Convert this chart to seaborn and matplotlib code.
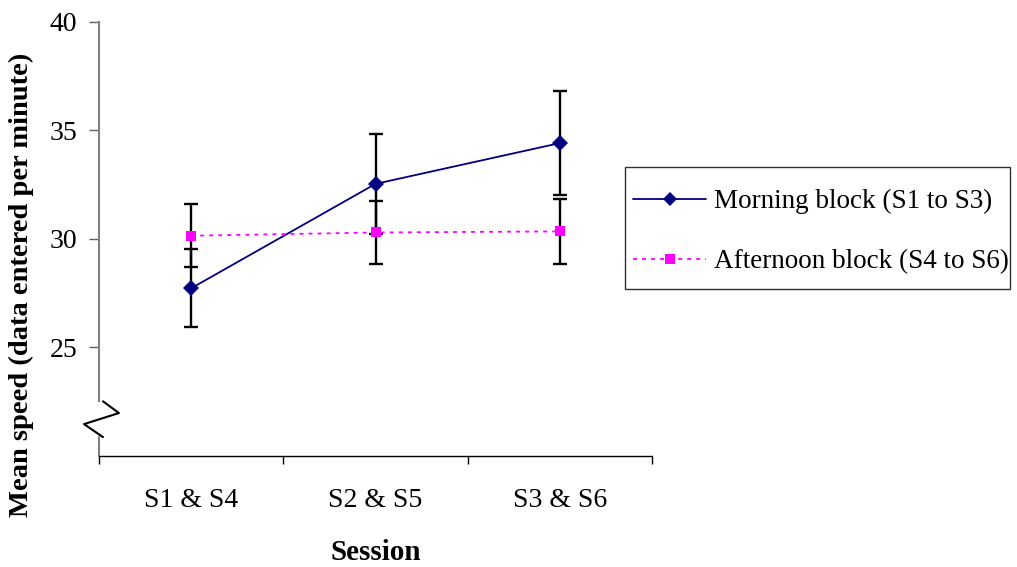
import numpy as np
import pandas as pd
import matplotlib
matplotlib.use("Agg")
import matplotlib.pyplot as plt
import matplotlib.transforms as mtransforms
from matplotlib.patches import Rectangle
import seaborn as sns

# Session pairs and mean typing speed per block
sessions = ["S1 & S4", "S2 & S5", "S3 & S6"]
morning_mean = [27.73, 32.54, 34.42]
morning_err = [1.80, 2.30, 2.38]
afternoon_mean = [30.15, 30.30, 30.35]
afternoon_err = [1.45, 1.45, 1.50]
series_names = ["Morning block (S1 to S3)", "Afternoon block (S4 to S6)"]
y_ticks = [25, 30, 35, 40]

sns.set_style("ticks")
plt.rcParams["font.family"] = ["Liberation Serif", "DejaVu Serif"]
plt.rcParams["text.color"] = "black"
plt.rcParams["axes.labelcolor"] = "black"

pos = np.arange(len(sessions))
df = pd.DataFrame({
    "pos": np.concatenate([pos, pos]),
    "speed": morning_mean + afternoon_mean,
    "block": [series_names[0]] * len(sessions) + [series_names[1]] * len(sessions),
})

W, H = 1017, 567
fig = plt.figure(figsize=(W / 100, H / 100), dpi=100)
ax = fig.add_axes([99 / W, 1 - 456 / H, 553 / W, 434 / H])

# error bars first so the markers sit on top
for means, errs in [(morning_mean, morning_err), (afternoon_mean, afternoon_err)]:
    ax.errorbar(pos, means, yerr=errs, fmt="none", ecolor="black",
                elinewidth=1.7, capsize=5, capthick=1.7, zorder=2)

palette = {series_names[0]: "#000080", series_names[1]: "#FF00FF"}
sns.lineplot(
    data=df, x="pos", y="speed", hue="block", style="block",
    palette=palette,
    markers={series_names[0]: "D", series_names[1]: "s"},
    dashes={series_names[0]: "", series_names[1]: (2.2, 2.8)},
    markeredgewidth=0, linewidth=1.3, ax=ax, zorder=3,
    legend=True,
)
# marker sizes per series
for line in ax.get_lines():
    if line.get_marker() == "D":
        line.set_markersize(8.5)
    elif line.get_marker() == "s":
        line.set_markersize(7.5)

ax.set_xlim(-0.5, len(sessions) - 0.5)
ax.set_ylim(20, 40)

# category boundaries carry the tick marks, centres carry the labels
ax.set_xticks(np.arange(-0.5, len(sessions), 1.0))
ax.set_xticklabels([])
ax.set_xticks(pos, minor=True)
ax.set_xticklabels(sessions, minor=True, fontsize=20)
ax.tick_params(axis="x", which="major", length=6, width=1, direction="out", color="black")
ax.tick_params(axis="x", which="minor", length=0, pad=23, labelcolor="black")

ax.set_yticks(y_ticks)
ax.set_yticklabels([str(t) for t in y_ticks], fontsize=20)
ax.tick_params(axis="y", length=7.2, width=1, direction="out", color="#606060",
               pad=8.5, labelcolor="black")

ax.set_xlabel("Session", fontsize=21, fontweight="bold", labelpad=18.5)
ax.set_ylabel("Mean speed (data entered per minute)", fontsize=20.5, fontweight="bold")
ax.yaxis.set_label_coords(-0.1175, 0.394)

for side in ["top", "right"]:
    ax.spines[side].set_visible(False)
ax.spines["bottom"].set_color("black")
ax.spines["bottom"].set_linewidth(1)

# broken y axis: upper piece, zig-zag, and short lower piece
ax.spines["left"].set_bounds(22.55, 40)
ax.spines["left"].set_color("#808080")
ax.spines["left"].set_linewidth(1.5)
btrans = mtransforms.blended_transform_factory(ax.transAxes, ax.transData)
ax.plot([0, 0], [20, 20.87], transform=btrans, color="#808080", lw=1.5, clip_on=False)
ax.plot([0.0072, 0.036, -0.027, 0.0072], [22.52, 21.98, 21.47, 20.87],
        transform=btrans, color="black", lw=1.5, clip_on=False)

handles, labels = ax.get_legend_handles_labels()
if ax.get_legend() is not None:
    ax.get_legend().remove()
for h in handles:
    if h.get_marker() == "D":
        h.set_markersize(7)
    elif h.get_marker() == "s":
        h.set_markersize(6.5)
leg = fig.legend(handles, labels, loc="upper left",
                 bbox_to_anchor=(633 / W, 1 - 189 / H),
                 fontsize=19.5, frameon=False,
                 borderpad=0, labelspacing=1.3, handlelength=2.7,
                 handletextpad=0.28, borderaxespad=0)

# legend box
fig.patches.append(Rectangle((625 / W, 1 - 289 / H), 385 / W, 122 / H,
                             transform=fig.transFigure, fill=False,
                             edgecolor="#303030", linewidth=1.0))

fig.savefig("out.png", dpi=100)
